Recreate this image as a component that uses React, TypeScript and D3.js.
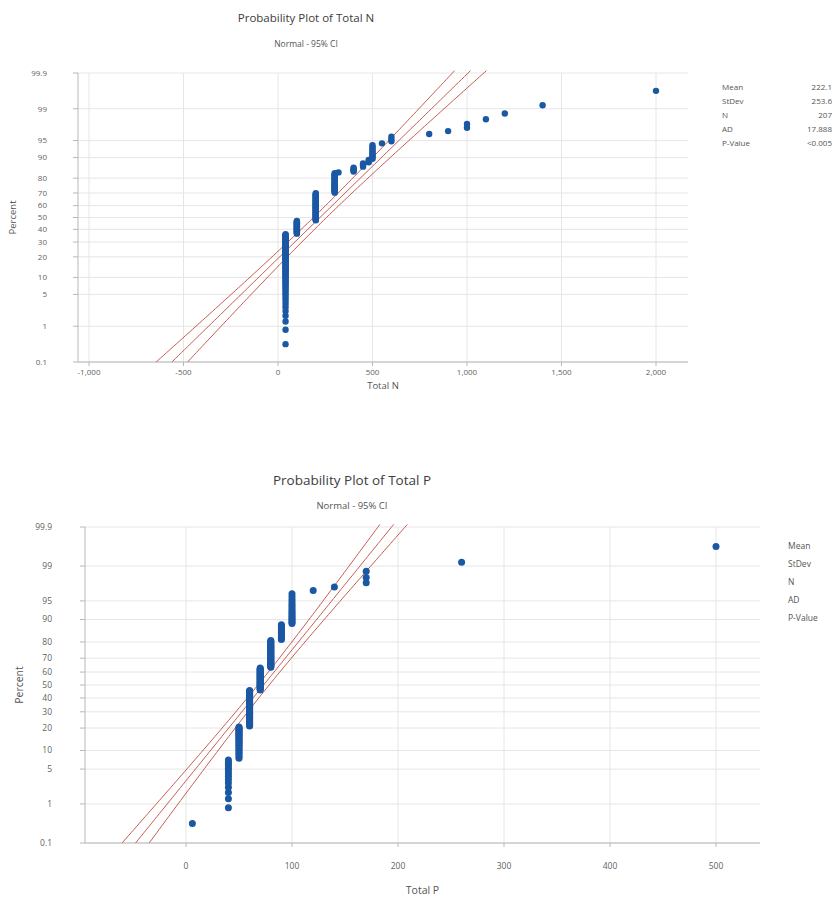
import React from 'react';
import * as d3 from 'd3';

// ---------- data ----------
const PCT_TICKS = [0.1, 1, 5, 10, 20, 30, 40, 50, 60, 70, 80, 90, 95, 99, 99.9];
const PCT_LABELS = ['0.1', '1', '5', '10', '20', '30', '40', '50', '60', '70', '80', '90', '95', '99', '99.9'];

const N_VALUES = [40, 100, 200, 300, 320, 400, 450, 480, 500, 550, 600, 800, 900, 1000, 1100, 1200, 1400, 2000];
const N_COUNTS = [75, 23, 47, 27, 1, 5, 4, 3, 10, 1, 3, 1, 1, 2, 1, 1, 1, 1];
const N_TICKS = [-1000, -500, 0, 500, 1000, 1500, 2000];
const N_STAT_LABELS = ['Mean', 'StDev', 'N', 'AD', 'P-Value'];
const N_STAT_VALUES = ['222.1', '253.6', '207', '17.888', '<0.005'];
const N_FIT = [222.1, 253.6];

const P_VALUES = [6, 40, 50, 60, 70, 80, 90, 100, 120, 140, 170, 260, 500];
const P_COUNTS = [1, 14, 28, 52, 36, 37, 15, 17, 1, 1, 3, 1, 1];
const P_TICKS = [0, 100, 200, 300, 400, 500];
const P_STAT_LABELS = ['Mean', 'StDev', 'N', 'AD', 'P-Value'];

// ---------- helpers ----------
function probit(p: number): number {
  const a = [-3.969683028665376e1, 2.209460984245205e2, -2.759285104469687e2, 1.38357751867269e2, -3.066479806614716e1, 2.506628277459239];
  const b = [-5.447609879822406e1, 1.615858368580409e2, -1.556989798598866e2, 6.680131188771972e1, -1.328068155288572e1];
  const c = [-7.784894002430293e-3, -3.223964580411365e-1, -2.400758277161838, -2.549671010229583, 4.374664141464968, 2.938163982698783];
  const d = [7.784695709041462e-3, 3.224671290700398e-1, 2.445134137142996, 3.754408661907416];
  const pl = 0.02425;
  if (p < pl) {
    const q = Math.sqrt(-2 * Math.log(p));
    return (((((c[0] * q + c[1]) * q + c[2]) * q + c[3]) * q + c[4]) * q + c[5]) / ((((d[0] * q + d[1]) * q + d[2]) * q + d[3]) * q + 1);
  }
  if (p <= 1 - pl) {
    const q = p - 0.5;
    const r = q * q;
    return ((((((a[0] * r + a[1]) * r + a[2]) * r + a[3]) * r + a[4]) * r + a[5]) * q) / (((((b[0] * r + b[1]) * r + b[2]) * r + b[3]) * r + b[4]) * r + 1);
  }
  const q = Math.sqrt(-2 * Math.log(1 - p));
  return -(((((c[0] * q + c[1]) * q + c[2]) * q + c[3]) * q + c[4]) * q + c[5]) / ((((d[0] * q + d[1]) * q + d[2]) * q + d[3]) * q + 1);
}

function expand(values: number[], counts: number[]): number[] {
  const out: number[] = [];
  values.forEach((v, i) => {
    for (let k = 0; k < counts[i]; k++) out.push(v);
  });
  return out.sort((x, y) => x - y);
}

type PanelProps = {
  id: string;
  title: string;
  subtitle: string;
  xTitle: string;
  values: number[];
  counts: number[];
  ticks: number[];
  fit: number[] | null;
  statLabels: string[];
  statValues: string[];
  L: any;
};

const FONT = "'Open Sans', 'Noto Sans', sans-serif";

function Panel({ id, title, subtitle, xTitle, values, counts, ticks, fit, statLabels, statValues, L }: PanelProps) {
  const data = expand(values, counts);
  const n = data.length;
  const mean = fit ? fit[0] : (d3.mean(data) as number);
  const sd = fit ? fit[1] : (d3.deviation(data) as number);

  const zMin = probit(0.001);
  const zMax = probit(0.999);
  const y = d3.scaleLinear().domain([zMin, zMax]).range([L.bottom, L.top]);
  const x = d3.scaleLinear().domain([(L.left - L.x0) / L.k, (L.right - L.x0) / L.k]).range([L.left, L.right]);

  const pts = data.map((v, i) => ({ v, z: probit((i + 1 - 0.3) / (n + 0.4)) }));

  const zs = d3.range(0, 101).map((i) => zMin - 0.05 + ((zMax - zMin + 0.1) * i) / 100);
  const hw = (z: number) => 1.96 * sd * Math.sqrt(1 / n + (z * z) / (2 * n));
  const line = d3.line<number[]>().x((d) => x(d[0])).y((d) => y(d[1]));
  const fitPath = line(zs.map((z) => [mean + z * sd, z]));
  const loPath = line(zs.map((z) => [mean + z * sd - hw(z), z]));
  const hiPath = line(zs.map((z) => [mean + z * sd + hw(z), z]));

  const grid = '#e6e6e6';
  const axis = '#b8b8b8';
  const tickColor = '#5f5f5f';
  const red = '#bf4a3e';

  return (
    <g fontFamily={FONT}>
      <defs>
        <clipPath id={`clip-${id}`}>
          <rect x={L.left} y={L.top - 3} width={L.right - L.left} height={L.bottom - L.top + 3} />
        </clipPath>
      </defs>
      <text x={L.titleX} y={L.titleY} textAnchor="middle" fontSize={L.titleSize} fill="#3c3c3c">
        {title}
      </text>
      <text x={L.titleX} y={L.subY} textAnchor="middle" fontSize={L.subSize} fill="#555">
        {subtitle}
      </text>

      {/* grid */}
      {PCT_TICKS.map((p) => (
        <line key={`hg${p}`} x1={L.left} x2={L.right} y1={y(probit(p / 100))} y2={y(probit(p / 100))} stroke={grid} strokeWidth={1} />
      ))}
      {ticks.map((t) => (
        <line key={`vg${t}`} x1={x(t)} x2={x(t)} y1={L.top} y2={L.bottom} stroke={grid} strokeWidth={1} />
      ))}

      {/* axes */}
      <line x1={L.left} x2={L.left} y1={L.top} y2={L.bottom} stroke={axis} strokeWidth={1} />
      <line x1={L.left} x2={L.right} y1={L.bottom} y2={L.bottom} stroke={axis} strokeWidth={1} />
      {PCT_TICKS.map((p, i) => (
        <g key={`yt${p}`}>
          <line x1={L.left - 5} x2={L.left} y1={y(probit(p / 100))} y2={y(probit(p / 100))} stroke={axis} />
          <text x={L.yLabelX} y={y(probit(p / 100))} dy="0.35em" textAnchor="end" fontSize={L.tickSize} fill={tickColor}>
            {PCT_LABELS[i]}
          </text>
        </g>
      ))}
      {ticks.map((t) => (
        <g key={`xt${t}`}>
          <line x1={x(t)} x2={x(t)} y1={L.bottom} y2={L.bottom + 4} stroke={axis} />
          <text x={x(t)} y={L.xLabelY} textAnchor="middle" fontSize={L.tickSize} fill={tickColor}>
            {d3.format(',')(t).replace('−', '-')}
          </text>
        </g>
      ))}
      <text x={(L.left + L.right) / 2} y={L.xTitleY} textAnchor="middle" fontSize={L.axisTitleSize} fill="#555">
        {xTitle}
      </text>
      <text
        transform={`translate(${L.yTitleX},${(L.top + L.bottom) / 2}) rotate(-90)`}
        textAnchor="middle"
        fontSize={L.axisTitleSize}
        fill="#555"
      >
        Percent
      </text>

      {/* fit & CI */}
      <g clipPath={`url(#clip-${id})`} fill="none" stroke={red} strokeWidth={0.9}>
        <path d={loPath || ''} />
        <path d={fitPath || ''} />
        <path d={hiPath || ''} />
      </g>

      {/* points */}
      <g fill="#1b58a4">
        {pts.map((p, i) => (
          <circle key={i} cx={x(p.v)} cy={y(p.z)} r={L.r} />
        ))}
      </g>

      {/* stats */}
      {statLabels.map((s, i) => (
        <text key={`sl${s}`} x={L.statX} y={L.statY + i * L.statDy} fontSize={L.statSize} fill="#555" dy="0.35em">
          {s}
        </text>
      ))}
      {statValues.map((s, i) => (
        <text key={`sv${i}`} x={L.statValX} y={L.statY + i * L.statDy} fontSize={L.statSize} fill="#555" dy="0.35em" textAnchor="end">
          {s}
        </text>
      ))}
    </g>
  );
}

const TOP_LAYOUT = {
  left: 78, right: 688, top: 73, bottom: 362, x0: 278, k: 0.189,
  titleX: 306, titleY: 22, subY: 47, titleSize: 11.5, subSize: 8.5,
  tickSize: 8, yLabelX: 47, xLabelY: 375, xTitleY: 389, yTitleX: 16, axisTitleSize: 9.5,
  r: 3.2, statX: 722, statY: 87, statDy: 14, statSize: 8, statValX: 832,
};

const BOTTOM_LAYOUT = {
  left: 85, right: 760, top: 527, bottom: 843, x0: 186, k: 1.06,
  titleX: 352, titleY: 485, subY: 509, titleSize: 13.5, subSize: 9.5,
  tickSize: 8.5, yLabelX: 52, xLabelY: 869, xTitleY: 894, yTitleX: 23, axisTitleSize: 10.5,
  r: 3.5, statX: 788, statY: 546, statDy: 18, statSize: 8.5, statValX: 900,
};

export default function App() {
  return (
    <svg
      width={834}
      height={899}
      viewBox="0 0 834 899"
      style={{ position: 'absolute', left: 0, top: 0, background: '#fff' }}
    >
      <rect width={834} height={899} fill="#fff" />
      <Panel
        id="n"
        title="Probability Plot of Total N"
        subtitle="Normal - 95% CI"
        xTitle="Total N"
        values={N_VALUES}
        counts={N_COUNTS}
        ticks={N_TICKS}
        fit={N_FIT}
        statLabels={N_STAT_LABELS}
        statValues={N_STAT_VALUES}
        L={TOP_LAYOUT}
      />
      <Panel
        id="p"
        title="Probability Plot of Total P"
        subtitle="Normal - 95% CI"
        xTitle="Total P"
        values={P_VALUES}
        counts={P_COUNTS}
        ticks={P_TICKS}
        fit={null}
        statLabels={P_STAT_LABELS}
        statValues={[]}
        L={BOTTOM_LAYOUT}
      />
    </svg>
  );
}
